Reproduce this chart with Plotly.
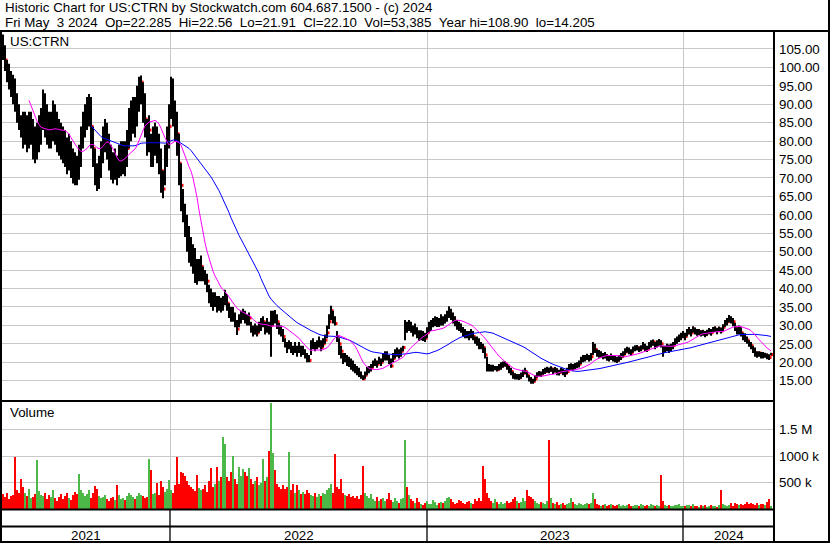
import plotly.graph_objects as go
import pandas as pd

W, H = 830, 543

# ---- data: one bar per two trading days (May 2021 -> May 3 2024) ----
highs = [
    108.9, 106, 102, 101, 99, 98, 97, 93, 90, 87,
    88, 88, 87, 88, 88, 86, 84, 85, 87, 89,
    94, 93, 90, 88, 88, 91, 90, 88, 86, 85,
    84, 83, 81, 82, 80, 78, 77, 76, 79, 84,
    88, 90, 92, 92.8, 92, 84, 78, 74, 76, 80,
    84, 86, 85, 82, 79, 77, 78, 76, 79, 80,
    80, 80, 83, 89, 91, 92, 92, 95, 97.5, 97.8,
    96, 93, 86, 87, 82, 84, 85, 84, 82, 78,
    72, 79, 84, 90, 97.5, 97, 91, 88, 82, 74,
    67, 63, 60, 57, 54, 52, 51, 48, 48, 49,
    46, 45, 44, 41, 40, 39, 39, 38, 38, 37.5,
    38, 39.7, 38.5, 36, 35, 35, 33.5, 31.5, 33, 34,
    34.5, 34, 33, 33.5, 31, 30, 30.5, 30, 31, 32,
    32.5, 31, 32, 31, 34, 34, 34.2, 33, 30.7, 30,
    29, 26.5, 25.5, 26, 25.5, 24.5, 25.5, 24.5, 25.5, 24.5,
    24.5, 23.5, 22.5, 22, 26, 26.5, 25.5, 26, 27, 26,
    26.5, 27.5, 30, 33, 35.3, 34, 32.5, 28.5, 26.5, 24.5,
    22.5, 22.5, 22, 21.5, 21, 20.5, 19.5, 19, 18.5, 17.5,
    16.5, 17.5, 18.7, 19, 19.5, 20.5, 21, 20.5, 21.5, 21,
    22.5, 23, 23, 22, 21, 22.5, 23.5, 24, 23.5, 24,
    24.5, 31.5, 31, 31.5, 31, 30, 30.5, 29.5, 28.7, 28.7,
    28.5, 28, 29.5, 31, 31.5, 32, 32.5, 32.3, 32, 33,
    32.5, 33, 34, 35.2, 34.5, 33.5, 32.5, 31.5, 31, 30.5,
    29.6, 29, 28.5, 28.5, 29, 28.5, 27, 27, 26.5, 25.5,
    25, 24, 21.5, 19.5, 19.3, 19.3, 19, 19, 19.5, 20,
    20.2, 20.3, 19.7, 19, 18.5, 17.5, 17, 16.8, 16.8, 17.2,
    18, 18.5, 17.5, 16.5, 16, 15.5, 16.5, 17.3, 17.6, 17.5,
    18.2, 18.5, 18.8, 18.6, 18.9, 18.4, 18.7, 18.4, 18, 18.5,
    18.3, 18, 18.5, 19.5, 19.7, 19.5, 19.8, 20, 20.5, 21.5,
    22, 22, 22.3, 22, 22.5, 25.5, 25, 23.5, 23.3, 23,
    22.5, 22.8, 22.2, 22, 22.4, 22, 21.8, 21.5, 22, 22.5,
    23, 23.8, 24.2, 24, 23.5, 24.3, 24.6, 24.7, 24.3, 24.6,
    25.5, 25, 24.5, 25.5, 26, 26.2, 25.5, 26, 26.3, 26,
    24.5, 24.5, 25, 24.8, 25, 25.5, 26.5, 27, 27.5, 28,
    28.5, 28, 29, 29.6, 29, 29.8, 29.4, 29, 29, 28.7,
    28.8, 28.5, 28.8, 29.3, 29, 29.6, 29.8, 29.3, 29.7, 29.4,
    30.3, 31.5, 32, 32.8, 32.5, 32, 30.7, 29.5, 30, 29.5,
    28, 27.9, 27, 26, 25.5, 24.5, 24, 23, 23, 22.8,
    22.8, 22.6, 22.4, 22.2, 22.56,
]
lows = [
    102, 99, 96, 94, 92, 90, 88, 85, 83, 81,
    78, 79, 77, 78, 79, 75, 74, 75, 77, 79,
    83, 81, 79, 78, 78, 80, 79, 77, 76, 75,
    74, 73, 71, 72, 70, 68.5, 68, 68, 69.5, 73,
    78, 81, 83, 84, 78, 73, 68, 66.5, 67, 70,
    74, 77, 75, 72, 69.5, 68.5, 69.5, 68, 70, 70.5,
    71, 70.5, 73, 78, 80, 82, 81, 84, 88, 90,
    85, 81, 76, 77, 73, 73, 76, 74, 71, 66,
    64.5, 68, 73, 78, 86, 84, 80, 76, 68, 61,
    58, 54, 50, 47, 46, 44, 41.5, 41, 42, 42,
    42, 41, 39, 36, 35, 34, 35, 33.5, 34, 33.5,
    34, 35.5, 34, 32, 31, 31, 29.5, 27.4, 29.5, 30.5,
    31.5, 30.5, 30, 30, 28, 27, 27.5, 27, 28, 28.5,
    29.5, 27.5, 28, 27.5, 21.5, 30, 30.5, 29, 27.5, 27,
    25.5, 24, 22.5, 23.5, 22.5, 22, 22.5, 21.5, 22.5, 21.5,
    22, 21, 20, 20, 22, 23.5, 23, 23.5, 24, 23,
    24, 25, 26.5, 29, 31.5, 30.5, 30, 25.5, 22, 21,
    19.5, 20, 19, 18.7, 18, 17.5, 17, 16.5, 16, 15.5,
    15.2, 15.5, 16.5, 17, 17.5, 18.5, 19, 18.5, 19.5, 19,
    20, 20.5, 20.5, 19.5, 18.5, 20, 21, 21.5, 21, 21.5,
    23, 26, 28, 28.5, 28, 27, 27.5, 26.5, 25.8, 26,
    25.8, 25.5, 26.5, 28, 28.5, 29.5, 29.8, 29.6, 29.6, 30,
    30, 30.5, 31, 32, 31.5, 30.5, 29.8, 28.8, 28.5, 28,
    27, 26.5, 26.5, 26, 26.5, 26, 25, 24.5, 23.5, 23.5,
    22.5, 21, 17.5, 17.5, 17.5, 17.5, 17.8, 17.5, 17.8, 18,
    18.5, 18.8, 18, 17, 16.5, 15.5, 15.3, 15.3, 15.2, 15.5,
    16, 16.8, 15.8, 14.8, 14.2, 14.2, 14.8, 15.8, 16.2, 16,
    16.6, 16.8, 17.2, 17, 17.4, 16.8, 17.2, 16.5, 16.4, 17,
    16.5, 16, 16.8, 17.6, 18, 17.6, 18.2, 18.4, 18.6, 19.5,
    20, 20.2, 20.6, 20.2, 20.5, 22, 22.5, 21.5, 21.2, 21.2,
    20.8, 21, 20.4, 20.2, 20.6, 20.2, 20, 19.8, 20.2, 20.6,
    21.3, 22, 22.6, 22.2, 21.8, 22.6, 23, 23.2, 22.8, 23,
    23.5, 23, 22.8, 23.5, 24, 24.5, 23.5, 24, 24.5, 24,
    21.5, 22.5, 23, 22.5, 23, 23.5, 24.5, 25, 25.5, 26,
    26.5, 26, 27, 27.5, 27, 28, 27.5, 27.2, 27.4, 27,
    27.2, 26.8, 27.2, 27.6, 27.2, 28, 28.2, 27.6, 28.2, 27.8,
    28.5, 29.6, 30, 30.8, 30.5, 29.8, 28.5, 27.5, 27.5, 27,
    26, 25.5, 25, 24.2, 23.5, 22.5, 21.5, 21.2, 21.5, 21,
    21, 21.2, 20.8, 20.6, 21.91,
]
closes = [
    105, 102, 99, 97, 95, 94, 92, 89, 86, 84,
    83, 84, 82, 83, 84, 81, 79, 80, 82, 84,
    89, 86, 84, 82, 83, 86, 84, 82, 81, 80,
    79, 78, 76, 77, 75, 73, 72, 71, 74, 79,
    84, 86, 88, 90, 84, 78, 72, 69, 71, 75,
    79, 82, 80, 77, 74, 72, 73, 71, 74, 75,
    76, 75, 78, 84, 86, 88, 87, 90, 94, 96,
    90, 86, 80, 83, 77, 78, 80, 79, 77, 72,
    67, 74, 79, 84, 94, 90, 85, 82, 74, 68,
    62, 58, 55, 51, 50, 48, 46, 44, 45, 46,
    44, 43, 42, 39, 37, 36, 37, 35, 36, 35,
    36, 38, 36, 34, 32, 33, 31, 29, 31, 32,
    33, 32, 31, 32, 29, 28, 29, 28, 29, 30,
    31, 29, 30, 29, 30, 33, 31.5, 31, 29, 28,
    27, 25, 24, 25, 24, 23, 24, 23, 24, 23,
    23, 22, 21, 20.5, 24, 25, 24, 24.5, 25, 24,
    25, 26, 28, 31, 34, 32, 30.5, 27, 25, 23,
    21, 21.5, 20.5, 20, 19.5, 19, 18, 17.5, 17, 16,
    15.5, 16.5, 17.5, 18, 18.5, 19.5, 20, 19.5, 20.5, 20,
    21, 22, 21.5, 20.5, 19, 21, 22, 22.5, 22, 23,
    24, 30, 29, 30, 29.5, 28.5, 29, 28, 27, 27.5,
    27, 26.5, 28, 29.5, 30, 30.5, 31, 31, 30.5, 31.5,
    31, 32, 32.5, 34, 33, 32, 31, 30, 29.5, 29,
    28.5, 28, 27.5, 27, 28, 27, 26, 25.5, 25, 24.5,
    24, 22, 19, 18.5, 18, 18.5, 18.5, 18, 18.5, 19,
    19.5, 19.5, 19, 18, 17.5, 16.5, 16, 16, 15.8, 16.5,
    17, 17.5, 16.5, 15.5, 15, 14.8, 15.5, 16.5, 17, 16.8,
    17.3, 17.5, 18, 17.8, 18.2, 17.6, 18, 17.5, 17.2, 17.8,
    17.5, 17, 17.5, 18.5, 19, 18.5, 19, 19.2, 19.5, 20.5,
    21, 21, 21.5, 21, 21.5, 24.5, 23.5, 22.5, 22, 22,
    21.5, 21.8, 21.2, 21, 21.5, 21, 20.8, 20.5, 21, 21.5,
    22, 22.8, 23.5, 23, 22.5, 23.5, 23.8, 24, 23.5, 23.8,
    24.5, 24, 23.5, 24.5, 25, 25.5, 24.5, 25, 25.5, 25,
    23, 23.5, 24, 23.5, 24, 24.5, 25.5, 26, 26.5, 27,
    27.5, 27, 28, 28.5, 28, 29, 28.5, 28, 28.3, 27.8,
    28, 27.5, 28, 28.5, 28, 28.8, 29, 28.5, 29, 28.5,
    29.5, 30.5, 31, 32, 31.5, 31, 29.5, 28.5, 29, 28,
    27, 26.5, 26, 25, 24.5, 23.5, 22.5, 22, 22.5, 22,
    21.8, 22, 21.5, 21.3, 22.1,
]
volumes_k = [
    280, 220, 300, 180, 240, 260, 980, 350, 300, 560,
    420, 300, 250, 380, 200, 230, 280, 920, 340, 260,
    240, 300, 180, 260, 220, 350, 200, 160, 230, 280,
    190, 250, 300, 210, 170, 260, 320, 280, 670, 360,
    300, 240, 280, 360, 200, 310, 440, 380, 250, 200,
    220, 260, 180, 150, 200, 230, 170, 450, 260, 190,
    210, 170, 240, 300, 260, 220, 180, 250, 300, 270,
    250, 200, 220, 950, 730, 280, 310, 500, 260, 520,
    420, 330, 380, 550, 360, 300, 450, 990, 480, 700,
    680, 620, 520, 450, 420, 380, 340, 640, 400, 360,
    380, 450, 330, 520, 780, 420, 480, 800, 520, 600,
    1350, 1220, 600, 520, 700, 1010, 560, 480, 800, 620,
    750, 700, 620, 780, 560, 480, 520, 600, 450, 500,
    950, 520, 600, 1090, 2000, 1060, 730, 480, 420, 380,
    450, 380, 420, 1080, 360, 470, 300, 460, 350, 280,
    320, 280, 350, 300, 260, 240, 300, 220, 280, 250,
    300, 280, 350, 400, 480, 300, 1040, 420, 380, 570,
    300, 260, 240, 280, 220, 250, 200, 240, 180, 260,
    820, 300, 250, 200, 280, 180, 150, 220, 160, 190,
    200, 150, 180, 300, 170, 140, 200, 160, 120, 180,
    200, 1310, 420, 260, 180, 150, 120, 200, 140, 100,
    80, 120, 150, 100, 90, 170, 130, 80, 110, 140,
    120, 160, 200, 220, 180, 130, 100, 120, 170, 150,
    110, 90, 140, 160, 120, 100, 180, 150, 200, 160,
    820, 570, 300, 200, 150, 120, 180, 140, 100, 130,
    90, 120, 150, 110, 130, 180, 220, 160, 120, 140,
    200, 150, 360, 250, 230, 180, 150, 120, 100, 130,
    120, 100, 160, 1310, 200, 110, 90, 130, 80, 100,
    110, 80, 90, 120, 200, 130, 100, 80, 110, 90,
    70, 100, 120, 90, 110, 300, 180, 100, 80, 60,
    70, 90, 60, 80, 100, 70, 50, 80, 90, 60,
    80, 60, 70, 90, 60, 50, 70, 80, 60, 90,
    70, 60, 80, 50, 90, 70, 60, 80, 50, 640,
    150, 80, 60, 70, 50, 60, 80, 70, 90, 60,
    50, 60, 80, 70, 60, 90, 50, 60, 40, 70,
    50, 70, 40, 60, 80, 50, 60, 40, 70, 360,
    90, 70, 60, 80, 110, 60, 120, 90, 70, 100,
    80, 90, 130, 100, 120, 90, 80, 110, 70, 90,
    100, 80, 130, 180, 53,
]

year_labels = ["2021", "2022", "2023", "2024"]
year_starts = [168, 425, 681]          # trading-day index where each new year begins
chart_days = 772                       # trading days shown on the x axis
price_ticks = [15, 20, 25, 30, 35, 40, 45, 50, 55, 60, 65, 70, 75, 80, 85, 90, 95, 100, 105]
vol_tickvals = [500000, 1000000, 1500000]
vol_ticktext = ["500 k", "1000 k", "1.5 M"]
header1 = "Historic Chart for US:CTRN by Stockwatch.com 604.687.1500 - (c) 2024"
header2 = ("Fri May\u00a0\u00a03 2024\u00a0\u00a0Op=22.285\u00a0\u00a0Hi=22.56\u00a0\u00a0Lo=21.91"
           "\u00a0\u00a0Cl=22.10\u00a0\u00a0Vol=53,385\u00a0\u00a0Year hi=108.90\u00a0\u00a0lo=14.205")
symbol = "US:CTRN"

# ---- derived ----
n = min(len(highs), len(lows), len(closes), len(volumes_k))
xs = [2 * i + 1 for i in range(n)]
cl = pd.Series(closes[:n])
ma_short = cl.rolling(14).mean()
ma_long = cl.rolling(45).mean()

bx, by = [], []
for i in range(n):
    bx += [xs[i], xs[i], None]
    by += [lows[i], highs[i], None]

vols = [v * 1000 for v in volumes_k[:n]]
vcolors = []
for i in range(n):
    if i > 0 and closes[i] >= closes[i - 1]:
        vcolors.append("#4cb848")
    else:
        vcolors.append("#ff0000")

FONT = "Liberation Sans, Arial, sans-serif"
FS = 13.33
GRID = "#c8c8c8"

fig = go.Figure()
fig.add_trace(go.Scatter(x=[x + 1 for x in xs], y=closes[:n], mode="markers",
                         marker=dict(symbol="square", size=3, color="#ff0000", line=dict(width=0)),
                         xaxis="x", yaxis="y", hoverinfo="skip"))
fig.add_trace(go.Scatter(x=bx, y=by, mode="lines", line=dict(color="#000000", width=2),
                         xaxis="x", yaxis="y", hoverinfo="skip"))
fig.add_trace(go.Scatter(x=xs, y=ma_long, mode="lines", line=dict(color="#0000ff", width=1),
                         xaxis="x", yaxis="y", hoverinfo="skip"))
fig.add_trace(go.Scatter(x=xs, y=ma_short, mode="lines", line=dict(color="#ff00ff", width=1),
                         xaxis="x", yaxis="y", hoverinfo="skip"))
fig.add_trace(go.Bar(x=xs, y=vols, marker=dict(color=vcolors, line=dict(width=0)), width=1.6,
                     xaxis="x2", yaxis="y2", hoverinfo="skip"))

def px_x(p):
    return p / W

def px_y(p):
    return 1 - p / H

x_dom = [px_x(2), px_x(774)]

axis_common = dict(showline=False, zeroline=False, ticks="", fixedrange=True)
fig.update_layout(
    width=W, height=H,
    margin=dict(l=0, r=0, t=0, b=0, pad=0),
    paper_bgcolor="white", plot_bgcolor="white",
    showlegend=False,
    font=dict(family=FONT, size=FS, color="#000000"),
    xaxis=dict(domain=x_dom, range=[0, chart_days], anchor="y", tickvals=year_starts,
               showticklabels=False, showgrid=True, gridcolor=GRID, gridwidth=1, **axis_common),
    yaxis=dict(domain=[px_y(400), px_y(32)], range=[9.76, 109.61], side="right", anchor="x",
               tickvals=price_ticks, ticktext=[f"{v:.2f}" for v in price_ticks],
               showgrid=True, gridcolor=GRID, gridwidth=1, tickfont=dict(size=FS, family=FONT),
               ticklabelstandoff=4, **axis_common),
    xaxis2=dict(domain=x_dom, range=[0, chart_days], anchor="y2", matches="x", tickvals=year_starts,
                showticklabels=False, showgrid=True, gridcolor=GRID, gridwidth=1, **axis_common),
    yaxis2=dict(domain=[px_y(509), px_y(402)], range=[0, 2.02e6], side="right", anchor="x2",
                tickvals=vol_tickvals, ticktext=vol_ticktext, showgrid=True, gridcolor=GRID,
                gridwidth=1, tickfont=dict(size=FS, family=FONT), ticklabelstandoff=4, **axis_common),
    bargap=0,
)

shapes = []
def line(x0, y0, x1, y1, w=2, color="#000000"):
    shapes.append(dict(type="line", xref="paper", yref="paper", x0=px_x(x0), y0=px_y(y0),
                       x1=px_x(x1), y1=px_y(y1), line=dict(color=color, width=w), layer="above"))

line(0, 31, W, 31)            # header underline
line(1, 31, 1, H)             # left border
line(829, 0, 829, H)          # right border
line(0, 542, W, 542)          # bottom border
line(774, 31, 774, H)         # axis divider
line(0, 401, 774, 401)        # price / volume separator
line(0, 509.5, 774, 509.5)    # volume bottom
line(0, 526.5, 774, 526.5)    # year band top
for d in year_starts:
    xp = 2 + d * (772 / chart_days)
    line(xp, 509.5, xp, H, w=1.3)
fig.update_layout(shapes=shapes)

ann = []
def text(x, y, s, anchor="left"):
    ann.append(dict(xref="paper", yref="paper", x=px_x(x), y=px_y(y), text=s, showarrow=False,
                    xanchor=anchor, yanchor="middle", font=dict(family=FONT, size=FS, color="#000000")))

text(3, 8, header1)
text(3, 22, header2)
text(8, 41, symbol)
text(8, 413, "Volume")
bounds = [0] + year_starts + [chart_days]
for k, lab in enumerate(year_labels):
    mid = (bounds[k] + bounds[k + 1]) / 2
    text(2 + mid * (772 / chart_days), 535, lab, anchor="center")
fig.update_layout(annotations=ann)

fig.write_html("out.html", config={"displayModeBar": False, "staticPlot": True},
               post_script="document.body.style.margin='0';document.body.style.overflow='hidden';")
